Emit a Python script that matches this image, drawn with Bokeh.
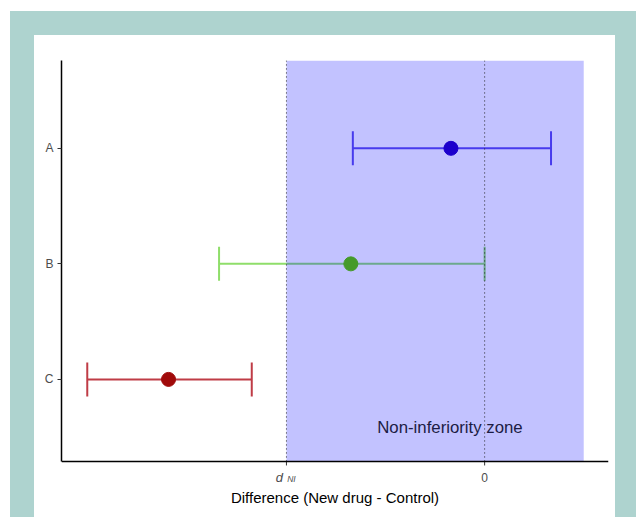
import numpy as np
from bokeh.plotting import figure
from bokeh.layouts import column
from bokeh.models import ColumnDataSource, Range1d, FixedTicker, Span
from bokeh.core.properties import value
from bokeh.embed import file_html
from bokeh.resources import INLINE

# ---- data ----
categories = ["A", "B", "C"]
estimates = [-0.34, -1.35, -3.19]
lower = [-1.33, -2.68, -4.01]
upper = [0.67, 0.0, -2.35]
point_colors = ["#1c00cc", "#459a2a", "#a00a0a"]
line_colors = ["#5e4ee8", "#8fde6a", "#bf3c46"]
margin_ni = -2.0
zone_right = 1.0
x_ticks = [margin_ni, 0.0]
x_tick_text = ["", "0"]
x_title = "Difference (New drug - Control)"
zone_text = "Non-inferiority zone"

ypos = [len(categories) - i for i in range(len(categories))]

src = ColumnDataSource(dict(cat=categories, y=ypos, est=estimates, lo=lower, hi=upper,
                            pc=point_colors, lc=line_colors))

FONT = "Liberation Sans"
# layout
FIG_W, FIG_H = 581, 482
BL, BR, BT, BB = 27, 7, 25, 0
x0r, x1r = -4.27, 1.25
y0, y1 = 0.29, 3.76          # plotted panel (axis at y0)
yb = -0.195                  # frame extends below panel to hold x-axis texts
frame_h = FIG_H - BT - BB
ppu = frame_h / (y1 - yb)    # px per y unit


def below(px):
    return y0 - px / ppu


p = figure(width=FIG_W, height=FIG_H, output_backend="svg", toolbar_location=None,
           x_range=Range1d(x0r, x1r), y_range=Range1d(yb, y1),
           x_axis_location=None,
           min_border_left=BL, min_border_right=BR, min_border_top=BT, min_border_bottom=BB,
           background_fill_color="white", border_fill_color="white")
p.outline_line_color = None
p.grid.visible = False
p.margin = (24, 21, 0, 24)
p.styles = {"background-color": "white"}

# error bars
p.segment(x0="lo", y0="y", x1="hi", y1="y", line_color="lc", line_width=2, source=src)
p.scatter(x="lo", y="y", marker="dash", angle=np.pi / 2, size=34, line_color="lc",
          line_width=2, source=src)
p.scatter(x="hi", y="y", marker="dash", angle=np.pi / 2, size=34, line_color="lc",
          line_width=2, source=src)

# non-inferiority zone
p.quad(left=[margin_ni], right=[zone_right], bottom=[y0], top=[y1],
       fill_color="#0000ff", fill_alpha=0.24, line_color=None)

p.text(x=[-0.35], y=[0.585], text=[zone_text], text_font=value(FONT),
       text_font_size="16.8px", text_color="#1c1c44", text_align="center",
       text_baseline="middle")

# dotted reference lines
p.segment(x0=x_ticks, y0=[y0] * len(x_ticks), x1=x_ticks, y1=[y1] * len(x_ticks),
          line_color="#222222", line_width=1, line_dash="1 3")

# points
p.scatter(x="est", y="y", size=14, fill_color="pc", line_color="pc", source=src)

# y axis
ax = p.yaxis[0]
ax.bounds = (y0, y1)
ax.axis_line_color = "black"
ax.axis_line_width = 1.5
ax.major_tick_line_color = "#333333"
ax.major_tick_in = 0
ax.major_tick_out = 4
ax.minor_tick_line_color = None
ax.major_label_text_font = FONT
ax.major_label_text_font_size = "12px"
ax.major_label_text_color = "#4d4d4d"
ax.major_label_standoff = 4
ax.ticker = FixedTicker(ticks=ypos)
ax.major_label_overrides = {y: c for y, c in zip(ypos, categories)}

# x axis (drawn within the extended frame)
p.add_layout(Span(location=y0, dimension="width", line_color="black", line_width=1.5))
p.segment(x0=x_ticks, y0=[y0] * len(x_ticks), x1=x_ticks, y1=[below(4)] * len(x_ticks),
          line_color="#333333", line_width=1)
p.text(x=x_ticks, y=[below(16)] * len(x_ticks), text=x_tick_text, text_font=value(FONT),
       text_font_size="12px", text_color="#4d4d4d", text_align="center",
       text_baseline="alphabetic")
p.text(x=[margin_ni], y=[below(16)], text=["d"], x_offset=-7, text_font=value(FONT),
       text_font_size="13px", text_font_style="italic", text_color="#4d4d4d",
       text_align="center", text_baseline="alphabetic")
p.text(x=[margin_ni], y=[below(18)], text=["NI"], x_offset=5, text_font=value(FONT),
       text_font_size="8.5px", text_font_style="italic", text_color="#4d4d4d",
       text_align="center", text_baseline="alphabetic")
p.text(x=[(x0r + x1r) / 2], y=[below(36)], text=[x_title], text_font=value(FONT),
       text_font_size="15px", text_color="black", text_align="center",
       text_baseline="alphabetic")

layout = column(p, styles={"background-color": "#aed3cf"}, margin=(11, 0, 0, 10))

open("out.html", "w").write(file_html(layout, INLINE))
